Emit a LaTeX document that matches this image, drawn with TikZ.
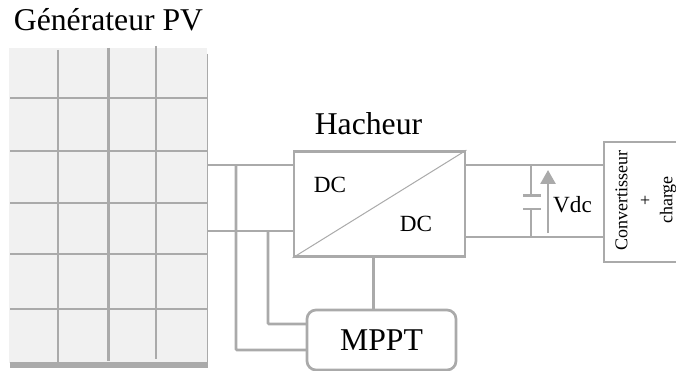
\documentclass[tikz,border=0pt]{standalone}
\usepackage{fontspec}
\setmainfont{Liberation Serif}
\usetikzlibrary{arrows.meta}
\definecolor{ln}{RGB}{170,170,170}
\definecolor{pn}{RGB}{241,241,241}
\tikzset{
  wire/.style={draw=ln,line width=2.7pt},
  grid line/.style={draw=ln,line width=2.7pt},
  lab/.style={inner sep=0pt,text=black,anchor=center},
  bigtext/.style={font=\fontsize{31.7}{34}\selectfont},
  midtext/.style={font=\fontsize{23.2}{26}\selectfont},
  smalltext/.style={font=\fontsize{18}{20}\selectfont},
}
\begin{document}
\begin{tikzpicture}[x=1pt,y=-1pt]
\useasboundingbox (0,0) rectangle (676,371);
\clip (0,0) rectangle (676,371);
\fill[white] (0,0) rectangle (676,371);
% PV panel
\fill[pn] (9,48) rectangle (207,363);
\fill[ln] (10,362) rectangle (207.5,368);
\draw[draw=ln,line width=1pt] (207,54) -- (207,362);
\foreach \y in {98,151,203,254,309} \draw[grid line] (10,\y) -- (207,\y);
\draw[grid line] (58,50) -- (58,362);
\draw[grid line] (108.5,48) -- (108.5,361);
\draw[grid line] (156,46) -- (156,359);
% nodes
\node[lab,bigtext] (gen) at (108.5,20) {Générateur PV};
\node[lab,bigtext] (hach) at (368.5,124) {Hacheur};
\node[wire,minimum width=171pt,minimum height=105pt,inner sep=0pt,fill=white] (box) at (379.5,204) {};
\draw[draw=ln,line width=1pt] (box.south west) -- (box.north east);
\node[lab,midtext] (dc1) at (330,184.5) {DC};
\node[lab,midtext] (dc2) at (416,223.5) {DC};
\node[wire,rounded corners=9pt,minimum width=149pt,minimum height=60pt,inner sep=0pt,fill=white,bigtext,text=black] (mppt) at (381.5,340) {MPPT};
\node[wire,minimum width=100pt,minimum height=120pt,inner sep=0pt,fill=white] (conv) at (654,202) {};
\node[lab,rotate=90,smalltext] (c1) at (621.5,200.5) {Convertisseur};
\node[lab,rotate=90,smalltext] (c2) at (646,200.5) {+};
\node[lab,rotate=90,smalltext] (c3) at (668,200) {charge};
\node[lab,midtext] (vdc) at (572.5,204.5) {Vdc};
% named points
\coordinate (panelA) at (207,165);
\coordinate (panelB) at (207,231);
\coordinate (j1) at (236,165);
\coordinate (j1b) at (236,350);
\coordinate (m1) at (307,350);
\coordinate (j3) at (268,231);
\coordinate (j3b) at (268,324);
\coordinate (m2) at (307,324);
\coordinate (ca) at (531,165);
\coordinate (cb) at (531,237);
\coordinate (p1) at (531,195.5);
\coordinate (p2) at (531,209);
\coordinate (p1l) at (523,195.5);
\coordinate (p1r) at (541,195.5);
\coordinate (p2l) at (523,209);
\coordinate (p2r) at (541,209);
\coordinate (a1) at (548,233);
\coordinate (a2) at (548,170);
\coordinate (bs) at (373.5,256);
\coordinate (ms) at (373.5,310);
\coordinate (ba) at (465,165);
\coordinate (bb) at (465,237);
\coordinate (ra) at (604,165);
\coordinate (rb) at (604,237);
\coordinate (la) at (294,165);
\coordinate (lb) at (294,231);
% wires
\draw[wire] (panelA) -- (la);
\draw[wire] (panelB) -- (lb);
\draw[wire,rounded corners=1pt] (j1) -- (j1b) -- (m1);
\draw[wire,rounded corners=1pt] (j3) -- (j3b) -- (m2);
\draw[wire] (bs) -- (ms);
\draw[wire] (ba) -- (ra);
\draw[wire] (bb) -- (rb);
\draw[wire] (ca) -- (p1);
\draw[wire] (cb) -- (p2);
\draw[wire] (p1l) -- (p1r);
\draw[wire] (p2l) -- (p2r);
\draw[ln,line width=2.7pt,-{Triangle[length=14pt,width=15pt]}] (a1) -- (a2);
\end{tikzpicture}
\end{document}
